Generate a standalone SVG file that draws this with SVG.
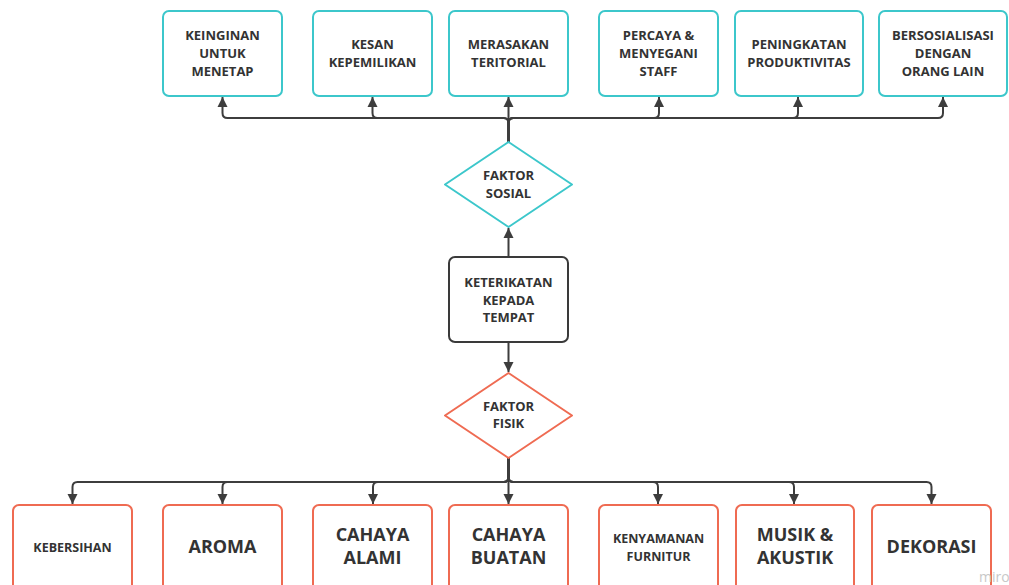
<svg xmlns="http://www.w3.org/2000/svg" width="1009" height="585" viewBox="0 0 1009 585">
<style>
.bg{fill:#ffffff}
.cy{fill:#ffffff;stroke:#3cc7cb;stroke-width:2}
.rd{fill:#ffffff;stroke:#ef6b52;stroke-width:2}
.dk{fill:#ffffff;stroke:#3a3a3a;stroke-width:2}
.dia{stroke-linejoin:round}
text{font-family:"Open Sans","Noto Sans","Liberation Sans",sans-serif;font-weight:bold;fill:#333333;text-anchor:middle}
.t13{font-size:13px}
.t12{font-size:12.5px}
.t18{font-size:18px}
.con{fill:none;stroke:#3d3d3d;stroke-width:2;marker-end:url(#ah)}
.wm{font-size:14px;font-weight:normal;fill:#c8c8c8;text-anchor:start}
</style>
<defs>
<marker id="ah" markerWidth="12" markerHeight="12" refX="10" refY="6" orient="auto" markerUnits="userSpaceOnUse">
<path d="M0,1 L10,6 L0,11 Z" fill="#3d3d3d"/>
</marker>
</defs>
<rect class="bg" x="0" y="0" width="1009" height="585"/>

<g id="connectors">
<path class="con" d="M508.5,142 V123 Q508.5,118 503.5,118 H227.5 Q222.5,118 222.5,113 V97"/>
<path class="con" d="M508.5,142 V123 Q508.5,118 503.5,118 H377.5 Q372.5,118 372.5,113 V97"/>
<path class="con" d="M508.5,142 V97"/>
<path class="con" d="M508.5,142 V123 Q508.5,118 513.5,118 H654 Q659,118 659,113 V97"/>
<path class="con" d="M508.5,142 V123 Q508.5,118 513.5,118 H793 Q798,118 798,113 V97"/>
<path class="con" d="M508.5,142 V123 Q508.5,118 513.5,118 H938 Q943,118 943,113 V97"/>
<path class="con" d="M508.5,257 V228"/>
<path class="con" d="M508.5,342 V372"/>
<path class="con" d="M508.5,458 V477 Q508.5,482 503.5,482 H77.5 Q72.5,482 72.5,487 V504"/>
<path class="con" d="M508.5,458 V477 Q508.5,482 503.5,482 H227.5 Q222.5,482 222.5,487 V504"/>
<path class="con" d="M508.5,458 V477 Q508.5,482 503.5,482 H378 Q373,482 373,487 V504"/>
<path class="con" d="M508.5,458 V504"/>
<path class="con" d="M508.5,458 V477 Q508.5,482 513.5,482 H653 Q658,482 658,487 V504"/>
<path class="con" d="M508.5,458 V477 Q508.5,482 513.5,482 H789 Q794,482 794,487 V504"/>
<path class="con" d="M508.5,458 V477 Q508.5,482 513.5,482 H926.5 Q931.5,482 931.5,487 V504"/>
</g>

<g id="n-keinginan">
<rect class="cy" x="163" y="11" width="119" height="85" rx="6"/>
<text class="t13" x="222.5" y="39.6">KEINGINAN</text>
<text class="t13" x="222.5" y="57.6">UNTUK</text>
<text class="t13" x="222.5" y="75.6">MENETAP</text>
</g>
<g id="n-kesan">
<rect class="cy" x="313" y="11" width="119" height="85" rx="6"/>
<text class="t13" x="372.5" y="48.6">KESAN</text>
<text class="t13" x="372.5" y="66.6">KEPEMILIKAN</text>
</g>
<g id="n-merasakan">
<rect class="cy" x="449" y="11" width="119" height="85" rx="6"/>
<text class="t13" x="508.5" y="48.6">MERASAKAN</text>
<text class="t13" x="508.5" y="66.6">TERITORIAL</text>
</g>
<g id="n-percaya">
<rect class="cy" x="599" y="11" width="119" height="85" rx="6"/>
<text class="t13" x="658.5" y="39.6">PERCAYA &amp;</text>
<text class="t13" x="658.5" y="57.6">MENYEGANI</text>
<text class="t13" x="658.5" y="75.6">STAFF</text>
</g>
<g id="n-peningkatan">
<rect class="cy" x="735" y="11" width="128" height="85" rx="6"/>
<text class="t13" x="799" y="48.6">PENINGKATAN</text>
<text class="t13" x="799" y="66.6">PRODUKTIVITAS</text>
</g>
<g id="n-bersosialisasi">
<rect class="cy" x="879" y="11" width="128" height="85" rx="6"/>
<text class="t13" x="943" y="39.6">BERSOSIALISASI</text>
<text class="t13" x="943" y="57.6">DENGAN</text>
<text class="t13" x="943" y="75.6">ORANG LAIN</text>
</g>

<g id="n-faktor-sosial">
<polygon class="cy dia" points="508.5,142 572,184.5 508.5,227 445,184.5"/>
<text class="t13" x="508.5" y="179.6">FAKTOR</text>
<text class="t13" x="508.5" y="197.6">SOSIAL</text>
</g>
<g id="n-keterikatan">
<rect class="dk" x="449" y="257" width="119" height="85" rx="6"/>
<text class="t13" x="508.5" y="286.6">KETERIKATAN</text>
<text class="t13" x="508.5" y="304.6">KEPADA</text>
<text class="t13" x="508.5" y="321.6">TEMPAT</text>
</g>
<g id="n-faktor-fisik">
<polygon class="rd dia" points="508.5,373 572,415.5 508.5,458 445,415.5"/>
<text class="t13" x="508.5" y="410.6">FAKTOR</text>
<text class="t13" x="508.5" y="427.6">FISIK</text>
</g>

<g id="n-kebersihan">
<rect class="rd" x="13" y="505" width="119" height="100" rx="6"/>
<text class="t12" x="72.5" y="551.5">KEBERSIHAN</text>
</g>
<g id="n-aroma">
<rect class="rd" x="163" y="505" width="119" height="100" rx="6"/>
<text class="t18" x="222.5" y="553.4">AROMA</text>
</g>
<g id="n-cahaya-alami">
<rect class="rd" x="313" y="505" width="119" height="100" rx="6"/>
<text class="t18" x="372.5" y="541.4">CAHAYA</text>
<text class="t18" x="372.5" y="564.4">ALAMI</text>
</g>
<g id="n-cahaya-buatan">
<rect class="rd" x="449" y="505" width="119" height="100" rx="6"/>
<text class="t18" x="508.5" y="541.4">CAHAYA</text>
<text class="t18" x="508.5" y="564.4">BUATAN</text>
</g>
<g id="n-kenyamanan">
<rect class="rd" x="599" y="505" width="119" height="100" rx="6"/>
<text class="t12" x="658.5" y="542.5">KENYAMANAN</text>
<text class="t12" x="658.5" y="560.5">FURNITUR</text>
</g>
<g id="n-musik">
<rect class="rd" x="736" y="505" width="118" height="100" rx="6"/>
<text class="t18" x="795" y="541.4">MUSIK &amp;</text>
<text class="t18" x="795" y="564.4">AKUSTIK</text>
</g>
<g id="n-dekorasi">
<rect class="rd" x="872" y="505" width="119" height="100" rx="6"/>
<text class="t18" x="931.5" y="553.4">DEKORASI</text>
</g>
<text class="wm" x="979" y="582">miro</text>
</svg>
